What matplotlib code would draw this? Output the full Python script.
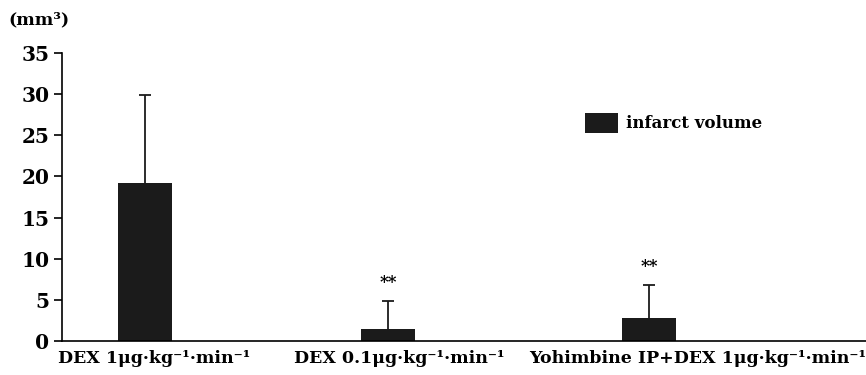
import matplotlib.pyplot as plt

# データ
groups = ['DEX 1μg·kg⁻¹·min⁻¹', 'DEX 0.1μg·kg⁻¹·min⁻¹', 'Yohimbine IP+DEX 1μg·kg⁻¹·min⁻¹']
volume = [19.2, 1.5, 2.8]
sd = [10.7, 3.4, 4.0]
marks = ['', '**', '**']

# 配置 (軸の座標)
bar_x = [83, 326, 587]
label_x = [92, 337, 636]

plt.rcParams['font.family'] = ['DejaVu Serif']
plt.rcParams['font.weight'] = 'bold'

fig = plt.figure(figsize=(8.66, 3.75), dpi=100)
ax = fig.add_axes([62 / 866, 34 / 375, 804 / 866, 288 / 375])

ax.bar(bar_x, volume, width=54, color='#1b1b1b', label='infarct volume', zorder=2)
# 上側だけのエラーバー
tops = [v + s for v, s in zip(volume, sd)]
ax.vlines(bar_x, volume, tops, color='#1b1b1b', linewidth=1.3, zorder=1)
ax.hlines(tops, [x - 6 for x in bar_x], [x + 6 for x in bar_x], color='#1b1b1b', linewidth=1.3)
for x, t, m in zip(bar_x, tops, marks):
    if m:
        ax.text(x, t + 1.2, m, ha='center', va='bottom', fontsize=12, fontweight='bold')

ax.set_xlim(0, 804)
ax.set_ylim(0, 35)
ax.set_yticks(range(0, 36, 5))
ax.set_xticks([])
ax.spines['top'].set_visible(False)
ax.spines['right'].set_visible(False)
ax.spines['left'].set_linewidth(1.2)
ax.spines['bottom'].set_linewidth(1.2)
ax.tick_params(axis='y', length=6, width=1.2, labelsize=14.5, pad=3)

for x, g in zip(label_x, groups):
    ax.text(x, -1.1, g, ha='center', va='top', fontsize=12.5, fontweight='bold')

fig.text(8 / 866, 1 - 20 / 375, '(mm³)', ha='left', va='center', fontsize=12.5, fontweight='bold')

ax.legend(loc='center left', bbox_to_anchor=(508 / 804, (341 - 123) / 288), frameon=False,
          handlelength=2.0, handleheight=1.55, handletextpad=0.45, fontsize=12)

fig.savefig('out.png', dpi=100)
